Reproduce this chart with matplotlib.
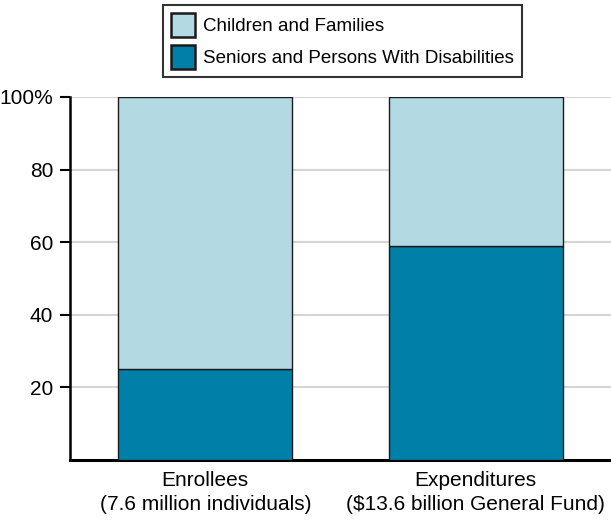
import matplotlib
matplotlib.use("Agg")
import matplotlib.pyplot as plt
from matplotlib.patches import Patch

categories = ["Enrollees\n(7.6 million individuals)", "Expenditures\n($13.6 billion General Fund)"]
seniors = [25, 59]
children = [75, 41]
yticks = [20, 40, 60, 80, 100]
ytick_labels = ["20", "40", "60", "80", "100%"]

light = "#B3D9E3"
dark = "#0080A8"

plt.rcParams["font.family"] = ["Liberation Sans", "DejaVu Sans"]

fig = plt.figure(figsize=(6.11, 5.22), dpi=100)
ax = fig.add_axes([70/611, 1 - 460/522, 541/611, (460-97)/522])

x = list(range(len(categories)))
ax.bar(x, seniors, width=0.642, color=dark, edgecolor="#1a1a1a", linewidth=1, zorder=3)
ax.bar(x, children, bottom=seniors, width=0.642, color=light, edgecolor="#1a1a1a", linewidth=1, zorder=3)

ax.set_xlim(-0.5, 1.5)
ax.set_ylim(0, 100)
ax.set_yticks(yticks)
ax.set_yticklabels(ytick_labels, fontsize=15)
ax.set_xticks(x)
ax.set_xticklabels(categories, fontsize=15, linespacing=1.35)
ax.tick_params(axis="x", length=0, pad=8)
ax.tick_params(axis="y", length=7, width=1.5, direction="out", pad=5)
ax.grid(axis="y", color="#d4d4d4", linewidth=1.5, zorder=0)
ax.set_axisbelow(True)
for s in ["top", "right"]:
    ax.spines[s].set_visible(False)
ax.spines["left"].set_linewidth(1.8)
ax.spines["bottom"].set_linewidth(2.2)

handles = [Patch(facecolor=light, edgecolor="#1a1a1a", linewidth=1.8, label="Children and Families"),
           Patch(facecolor=dark, edgecolor="#1a1a1a", linewidth=1.8, label="Seniors and Persons With Disabilities")]
leg = fig.legend(handles=handles, loc="upper left", bbox_to_anchor=(163/611, 1 - 5/522),
                 fontsize=13.5, frameon=True, fancybox=False, edgecolor="black",
                 handlelength=1.3, handleheight=1.6, handletextpad=0.45, labelspacing=0.45,
                 borderpad=0.4, borderaxespad=0)
leg.get_frame().set_linewidth(1.5)

fig.savefig("out.png", dpi=100)
